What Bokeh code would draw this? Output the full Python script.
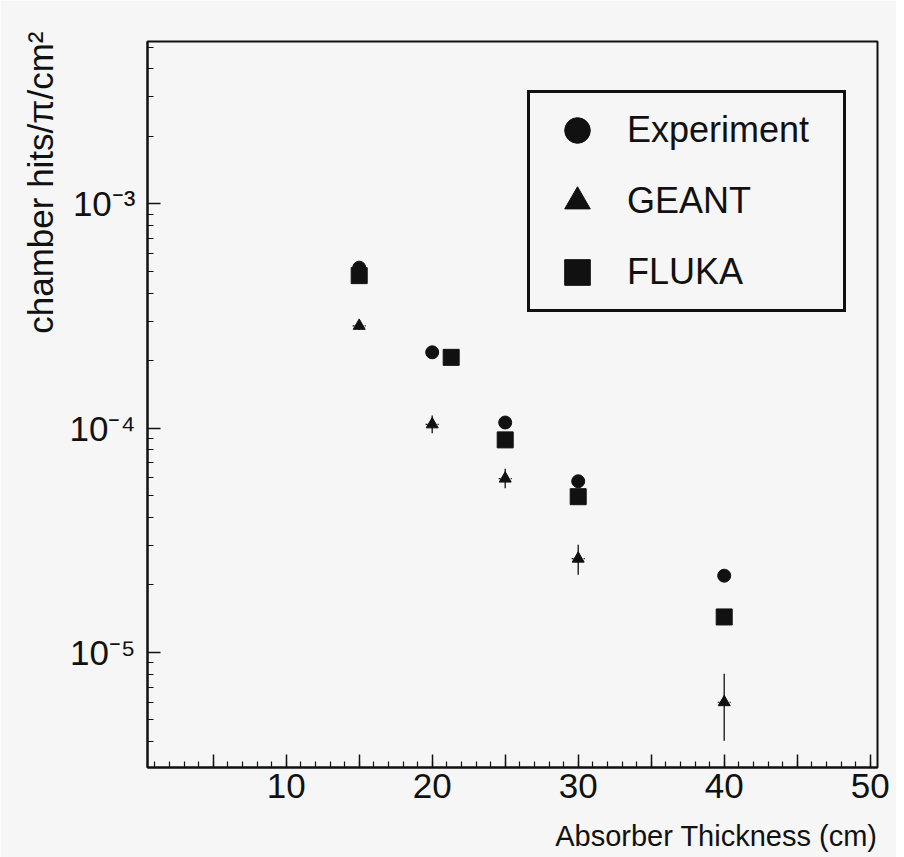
from bokeh.plotting import figure
from bokeh.models import FixedTicker, Legend, LegendItem, Title
from bokeh.embed import file_html
from bokeh.resources import INLINE

# ---- data ----
thickness = [15, 20, 25, 30, 40]
experiment = [5.2e-4, 2.18e-4, 1.06e-4, 5.8e-5, 2.2e-5]
geant = [2.86e-4, 1.04e-4, 5.96e-5, 2.62e-5, 6.0e-6]
geant_low = [2.75e-4, 0.95e-4, 5.4e-5, 2.22e-5, 4.04e-6]
geant_high = [2.97e-4, 1.14e-4, 6.6e-5, 3.02e-5, 8.04e-6]
geant_xerr = [0.45, 0.45, 0.45, 0.45, 0.45]
fluka_thickness = [15, 21.3, 25, 30, 40]
fluka = [4.79e-4, 2.07e-4, 8.87e-5, 4.95e-5, 1.44e-5]

series_labels = ["Experiment", "GEANT", "FLUKA"]

x_tick_values = [5, 10, 15, 20, 25, 30, 35, 40, 45, 50]
x_tick_labels = ["", "10", "", "20", "", "30", "", "40", "", "50"]
y_tick_values = [1e-5, 1e-4, 1e-3]
y_tick_labels = ["10\u207b\u2075", "10\u207b\u2074", "10\u207b\u00b3"]

x_label = "Absorber Thickness (cm)"
y_label = "chamber hits/\u03c0/cm\u00b2"

BG = "#f6f6f6"
INK = "#111111"
FONT = "Liberation Sans"

p = figure(width=896, height=857,
           x_range=(0.5, 50.5), y_range=(3.07e-6, 5.3e-3),
           y_axis_type="log",
           output_backend="svg", toolbar_location=None,
           min_border_left=147, min_border_right=19,
           min_border_top=41, min_border_bottom=90,
           background_fill_color=BG, border_fill_color=BG,
           outline_line_color=INK, outline_line_width=2)
p.grid.visible = False

exp_r = p.scatter(thickness, experiment, marker="circle", size=13,
                  fill_color=INK, line_color=INK)
fl_r = p.scatter(fluka_thickness, fluka, marker="square", size=16,
                 fill_color=INK, line_color=INK)
p.segment(x0=thickness, y0=geant_low, x1=thickness, y1=geant_high,
          line_color=INK, line_width=1.3)
p.segment(x0=[t - e for t, e in zip(thickness, geant_xerr)], y0=geant,
          x1=[t + e for t, e in zip(thickness, geant_xerr)], y1=geant,
          line_color=INK, line_width=1.2, line_dash="2 2")
ge_r = p.scatter(thickness, geant, marker="triangle", size=12,
                 fill_color=INK, line_color=INK)

legend = Legend(items=[LegendItem(label=series_labels[0], renderers=[exp_r]),
                       LegendItem(label=series_labels[1], renderers=[ge_r]),
                       LegendItem(label=series_labels[2], renderers=[fl_r])],
                location=(380, 455), margin=0,
                glyph_width=84, glyph_height=64, spacing=7, padding=5,
                label_standoff=8, label_width=211, label_height=64,
                label_text_font=FONT, label_text_font_size="36px",
                label_text_color=INK,
                border_line_color=INK, border_line_width=3,
                border_line_alpha=1.0,
                background_fill_color=BG, background_fill_alpha=1.0)
p.add_layout(legend)

xa = p.xaxis[0]
xa.ticker = FixedTicker(ticks=x_tick_values, minor_ticks=list(range(1, 51)))
xa.major_label_overrides = dict(zip(x_tick_values, x_tick_labels))
ya = p.yaxis[0]
y_minor = [k * 10.0 ** e for e in (-6, -5, -4, -3) for k in range(2, 10)]
ya.ticker = FixedTicker(ticks=y_tick_values, minor_ticks=y_minor)
ya.major_label_overrides = dict(zip(y_tick_values, y_tick_labels))

for ax in (xa, ya):
    ax.major_tick_in = 13
    ax.major_tick_out = 0
    ax.minor_tick_in = 6
    ax.minor_tick_out = 0
    ax.axis_line_width = 2
    ax.axis_line_color = INK
    ax.major_tick_line_width = 1.5
    ax.major_tick_line_color = INK
    ax.minor_tick_line_width = 1.2
    ax.minor_tick_line_color = INK
    ax.major_label_text_font = FONT
    ax.major_label_text_font_size = "35px"
    ax.major_label_text_color = INK
xa.major_label_standoff = 6
ya.major_label_standoff = 12
# small spacer between the x tick labels and the x title
xa.axis_label = " "
xa.axis_label_text_font_size = "1px"
xa.axis_label_standoff = 13

p.add_layout(Title(text=x_label, align="right", offset=0, standoff=0,
                   text_font=FONT, text_font_size="29px",
                   text_font_style="normal", text_color=INK), "below")
p.add_layout(Title(text=y_label, align="right", offset=-10, standoff=14,
                   text_font=FONT, text_font_size="35px",
                   text_font_style="normal", text_color=INK), "left")

open("out.html", "w").write(file_html(p, INLINE))
